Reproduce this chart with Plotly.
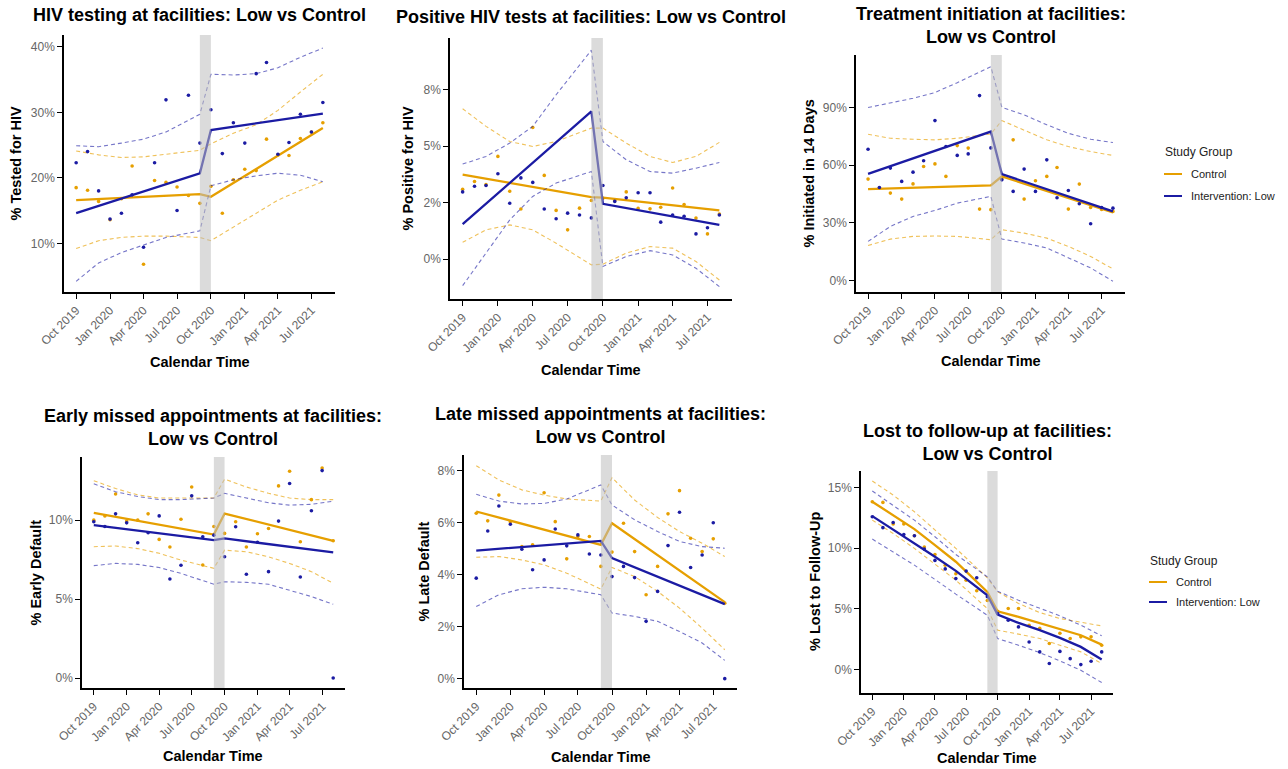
import pandas as pd
import plotly.graph_objects as go

W, H = 1288, 769

# ---------------- data ----------------
MONTHS = [d.strftime("%Y-%m-%d") for d in pd.date_range("2019-10-01", "2021-08-01", freq="MS")]
FIT_X = ["2019-10-01", "2020-09-01", "2020-10-01", "2021-08-01"]
CI_X = ["2019-10-01", "2019-12-01", "2020-02-01", "2020-04-01", "2020-06-01", "2020-09-01",
        "2020-10-01", "2020-12-01", "2021-02-01", "2021-04-01", "2021-06-01", "2021-08-01"]
TICK_X = ["2019-10-01", "2020-01-01", "2020-04-01", "2020-07-01", "2020-10-01",
          "2021-01-01", "2021-04-01", "2021-07-01"]
TICK_LABELS = ["Oct 2019", "Jan 2020", "Apr 2020", "Jul 2020", "Oct 2020",
               "Jan 2021", "Apr 2021", "Jul 2021"]
GROUPS = ["Control", "Intervention: Low"]

# Panel 1: HIV testing
p1_ctrl_pts = [18.5, 18.1, 16.4, 13.6, 16.8, 21.8, 6.8, 19.6, 19.3, 18.6, 17.3, 16.1, 18.7, 14.6, 19.7, 21.3, 21.1, 25.9, 23.5, 23.4, 26.0, 27.0, 28.4]
p1_low_pts = [22.3, 24.0, 18.0, 13.7, 14.6, 17.4, 9.4, 22.3, 31.9, 15.0, 32.6, 25.3, 30.4, 23.7, 28.4, 25.3, 35.9, 37.6, 23.6, 25.4, 29.7, 27.0, 31.5]
p1_ctrl_fit = [16.6, 17.5, 17.1, 27.6]
p1_low_fit = [14.6, 20.7, 27.3, 29.8]
p1_ctrl_lo = [9.2, 10.4, 10.9, 11.1, 11.1, 10.9, 10.4, 12.5, 14.6, 16.6, 18.1, 19.4]
p1_ctrl_hi = [24.1, 23.5, 23.1, 23.2, 23.6, 24.2, 25.2, 26.8, 28.1, 30.3, 33.1, 35.8]
p1_low_lo = [4.2, 7.0, 8.6, 9.8, 10.9, 11.9, 18.8, 19.7, 20.3, 20.7, 20.4, 19.4]
p1_low_hi = [24.9, 24.75, 25.3, 25.9, 27.0, 29.7, 35.8, 35.7, 35.9, 36.8, 38.4, 39.8]

# Panel 2: Positive HIV tests
p2_ctrl_pts = [3.1, 3.44, 3.3, 4.55, 3.01, 2.22, 5.83, 3.71, 2.16, 1.30, 2.26, 2.6, 2.7, 2.6, 2.98, 2.25, 2.23, 2.3, 3.15, 2.42, 1.82, 1.12, 2.0]
p2_low_pts = [2.98, 3.23, 3.26, 3.78, 2.48, 3.6, 3.4, 2.22, 1.79, 2.04, 1.96, 1.83, 3.26, 2.56, 2.72, 2.94, 2.94, 1.64, 1.96, 1.9, 1.12, 1.39, 1.96]
p2_ctrl_fit = [3.74, 2.75, 2.73, 2.16]
p2_low_fit = [1.55, 6.54, 2.45, 1.52]
p2_ctrl_lo = [0.75, 1.30, 1.52, 1.30, 0.71, -0.25, -0.22, 0.27, 0.56, 0.49, -0.1, -0.92]
p2_ctrl_hi = [6.66, 5.88, 5.21, 4.99, 5.21, 5.8, 5.8, 5.14, 4.55, 4.28, 4.55, 5.17]
p2_low_lo = [-1.17, 0.27, 1.74, 2.78, 3.37, 3.88, -0.32, 0.12, 0.38, 0.19, -0.4, -1.21]
p2_low_hi = [4.21, 4.55, 5.14, 5.88, 7.28, 9.25, 5.21, 4.4, 3.88, 3.81, 4.03, 4.28]

# Panel 3: Treatment initiation
p3_ctrl_pts = [52.8, 48.1, 45.5, 42.4, 50.3, 59.3, 60.7, 54.2, 70.2, 68.9, 37.2, 36.9, 53.0, 73.2, 42.4, 51.9, 54.2, 58.8, 37.2, 50.2, 38.0, 37.0, 36.0]
p3_low_pts = [68.3, 48.4, 58.5, 51.6, 56.4, 62.3, 83.2, 69.7, 65.1, 65.9, 96.2, 69.0, 52.4, 46.4, 58.0, 46.4, 62.8, 43.1, 46.9, 40.0, 29.6, 38.0, 37.7]
p3_ctrl_fit = [47.6, 49.5, 54.2, 35.5]
p3_low_fit = [55.5, 77.5, 55.4, 36.0]
p3_ctrl_lo = [18.3, 21.6, 23.0, 23.2, 23.0, 21.3, 26.5, 24.7, 22.1, 17.8, 12.6, 6.1]
p3_ctrl_hi = [76.1, 74.0, 73.5, 73.2, 74.0, 76.3, 83.2, 78.4, 73.2, 69.7, 67.1, 65.1]
p3_low_lo = [20.4, 28.2, 33.4, 36.5, 40.3, 43.8, 21.6, 19.6, 17.0, 11.8, 6.6, -0.3]
p3_low_hi = [90.0, 92.2, 94.8, 97.8, 102.9, 111.2, 90.1, 86.2, 81.0, 76.6, 73.5, 71.8]

# Panel 4: Early missed appointments
p4_ctrl_pts = [10.0, 10.27, 11.66, 9.94, 10.0, 10.4, 8.78, 8.3, 10.06, 12.1, 7.16, 9.6, 9.16, 9.9, 8.3, 9.14, 9.47, 12.17, 13.1, 8.63, 11.3, 13.3, 8.7]
p4_low_pts = [9.9, 9.6, 10.4, 9.83, 8.57, 9.2, 10.27, 6.27, 7.14, 11.54, 8.95, 9.05, 7.68, 9.58, 6.57, 8.6, 6.74, 9.94, 12.32, 6.4, 10.6, 13.14, 0.0]
p4_ctrl_fit = [10.46, 9.09, 10.42, 8.69]
p4_low_fit = [9.68, 8.74, 8.84, 7.96]
p4_ctrl_lo = [8.32, 8.36, 8.2, 7.9, 7.47, 6.95, 8.1, 8.0, 7.68, 7.26, 6.74, 6.0]
p4_ctrl_hi = [12.5, 12.0, 11.6, 11.4, 11.4, 11.4, 12.6, 12.1, 11.7, 11.4, 11.3, 11.3]
p4_low_lo = [7.12, 7.26, 7.2, 7.0, 6.63, 5.94, 6.1, 6.06, 5.94, 5.58, 5.16, 4.67]
p4_low_hi = [12.3, 11.8, 11.5, 11.3, 11.3, 11.4, 11.7, 11.4, 11.1, 10.95, 11.0, 11.2]

# Panel 5: Late missed appointments
p5_ctrl_pts = [6.35, 6.06, 7.05, 6.03, 5.07, 5.14, 7.14, 6.03, 4.6, 5.46, 5.46, 4.31, 4.86, 5.97, 4.88, 3.22, 4.31, 6.33, 7.22, 5.39, 4.88, 5.37, 2.9]
p5_low_pts = [3.86, 5.67, 6.63, 5.93, 4.97, 4.18, 4.56, 5.75, 5.1, 5.52, 4.79, 4.75, 3.92, 4.31, 3.88, 2.2, 3.35, 5.11, 6.39, 4.27, 4.75, 5.99, 0.0]
p5_ctrl_fit = [6.42, 5.14, 5.97, 2.94]
p5_low_fit = [4.92, 5.29, 4.63, 2.86]
p5_ctrl_lo = [4.66, 4.69, 4.56, 4.37, 4.05, 3.44, 4.27, 3.92, 3.35, 2.71, 1.94, 1.11]
p5_ctrl_hi = [8.18, 7.63, 7.25, 7.05, 6.9, 6.82, 7.72, 6.86, 6.19, 5.65, 5.2, 4.69]
p5_low_lo = [2.77, 3.22, 3.45, 3.51, 3.45, 3.22, 2.52, 2.39, 2.2, 1.81, 1.37, 0.7]
p5_low_hi = [7.08, 6.82, 6.71, 6.73, 6.9, 7.44, 6.67, 6.1, 5.65, 5.27, 5.07, 5.01]

# Panel 6: Lost to follow-up (curved fit, read at CI_X)
p6_ctrl_pts = [13.84, 13.78, 12.0, 12.0, 11.03, 10.1, 9.49, 8.61, 7.9, 7.37, 6.5, 5.7, 4.8, 5.03, 5.03, 3.66, 3.4, 2.15, 3.0, 2.56, 2.7, 2.7, 2.0]
p6_low_pts = [12.6, 11.7, 12.13, 11.14, 11.03, 9.93, 9.0, 8.3, 7.5, 8.12, 7.57, 6.0, 4.62, 4.07, 3.52, 2.28, 1.46, 0.5, 1.5, 0.9, 0.41, 0.69, 1.46]
p6_ctrl_fit = [13.84, 12.74, 11.58, 10.26, 8.89, 6.41, 4.81, 4.35, 3.85, 3.38, 2.83, 2.06]
p6_low_fit = [12.65, 11.55, 10.45, 9.3, 8.14, 6.13, 4.54, 3.85, 3.25, 2.61, 1.87, 0.83]
p6_ctrl_lo = [12.32, 11.22, 9.99, 8.67, 7.37, 5.03, 3.25, 2.92, 2.56, 2.01, 1.46, 0.5]
p6_ctrl_hi = [15.54, 14.39, 13.01, 11.5, 9.99, 7.57, 6.41, 5.45, 4.7, 4.21, 3.93, 3.6]
p6_low_lo = [10.76, 9.66, 8.61, 7.43, 6.22, 4.48, 2.56, 2.01, 1.4, 0.72, -0.06, -1.07]
p6_low_hi = [14.72, 13.56, 12.32, 10.95, 9.49, 7.65, 6.46, 5.72, 5.03, 4.43, 3.66, 2.78]

TITLES = ["HIV testing at facilities: Low vs Control",
          "Positive HIV tests at facilities: Low vs Control",
          "Treatment initiation at facilities:<br>Low vs Control",
          "Early missed appointments at facilities:<br>Low vs Control",
          "Late missed appointments at facilities:<br>Low vs Control",
          "Lost to follow-up at facilities:<br>Low vs Control"]
YTITLES = ["% Tested for HIV", "% Positive for HIV", "% Initiated in 14 Days",
           "% Early Default", "% Late Default", "% Lost to Follow-Up"]
YTICKS = [[10, 20, 30, 40], [0, 2.5, 5, 7.5], [0, 30, 60, 90], [0, 5, 10], [0, 2, 4, 6, 8], [0, 5, 10, 15]]
YTICKTEXT = [["10%", "20%", "30%", "40%"], ["0%", "2%", "5%", "8%"], ["0%", "30%", "60%", "90%"],
             ["0%", "5%", "10%"], ["0%", "2%", "4%", "6%", "8%"], ["0%", "5%", "10%", "15%"]]
YRANGES = [[2.57, 41.8], [-1.76, 9.79], [-5.9, 117.3], [-0.63, 14.0], [-0.36, 8.59], [-1.93, 16.37]]

# ---------------- layout geometry (px) ----------------
PANELS = [  # x0, x1, y0, y1 of plot area
    (64, 335, 35, 292),
    (450, 732, 38, 299),
    (856, 1125, 55, 292),
    (82, 345, 457, 688),
    (464, 737, 455, 688),
    (861, 1113, 471, 693),
]
TITLE_Y = [15, 17, 26, 427, 425, 442]
YTITLE_X = [15, 407, 808, 35, 423, 815]
XTITLE_Y = [362, 370, 361, 756, 757, 758]

ORANGE = "#E69F00"
BLUE = "#1B1BA3"
ORANGE_CI = "rgba(230,159,0,0.65)"
BLUE_CI = "rgba(27,27,163,0.6)"
FONT = "Liberation Sans, Arial, sans-serif"


def px(x):
    return x / W


def py(y):
    return 1 - y / H


panel_data = [
    (p1_ctrl_pts, p1_low_pts, p1_ctrl_fit, p1_low_fit, FIT_X, p1_ctrl_lo, p1_ctrl_hi, p1_low_lo, p1_low_hi),
    (p2_ctrl_pts, p2_low_pts, p2_ctrl_fit, p2_low_fit, FIT_X, p2_ctrl_lo, p2_ctrl_hi, p2_low_lo, p2_low_hi),
    (p3_ctrl_pts, p3_low_pts, p3_ctrl_fit, p3_low_fit, FIT_X, p3_ctrl_lo, p3_ctrl_hi, p3_low_lo, p3_low_hi),
    (p4_ctrl_pts, p4_low_pts, p4_ctrl_fit, p4_low_fit, FIT_X, p4_ctrl_lo, p4_ctrl_hi, p4_low_lo, p4_low_hi),
    (p5_ctrl_pts, p5_low_pts, p5_ctrl_fit, p5_low_fit, FIT_X, p5_ctrl_lo, p5_ctrl_hi, p5_low_lo, p5_low_hi),
    (p6_ctrl_pts, p6_low_pts, p6_ctrl_fit, p6_low_fit, CI_X, p6_ctrl_lo, p6_ctrl_hi, p6_low_lo, p6_low_hi),
]

fig = go.Figure()
layout = dict(template="none", width=W, height=H, margin=dict(l=0, r=0, t=0, b=0, pad=0),
              paper_bgcolor="white", plot_bgcolor="white", showlegend=False,
              font=dict(family=FONT))
shapes = []
annotations = []

for i, (cp, lp, cf, lf, fx, clo, chi, llo, lhi) in enumerate(panel_data):
    k = "" if i == 0 else str(i + 1)
    xa, ya = "x" + k, "y" + k
    x0, x1, y0, y1 = PANELS[i]
    layout["xaxis" + k] = dict(
        domain=[px(x0), px(x1)], anchor=ya, type="date", automargin=False,
        range=["2019-08-29", "2021-09-03"],
        tickvals=TICK_X, ticktext=TICK_LABELS, tickangle=-45,
        showline=True, linecolor="black", linewidth=1.5, mirror=False,
        ticks="outside", ticklen=5, tickwidth=1.3, tickcolor="black",
        showgrid=False, zeroline=False,
        tickfont=dict(size=12, color="#666666", family=FONT))
    layout["yaxis" + k] = dict(
        domain=[py(y1), py(y0)], anchor=xa, range=YRANGES[i], automargin=False,
        tickvals=YTICKS[i], ticktext=YTICKTEXT[i],
        showline=True, linecolor="black", linewidth=1.5,
        ticks="outside", ticklen=5, tickwidth=1.3, tickcolor="black",
        showgrid=False, zeroline=False,
        tickfont=dict(size=12, color="#666666", family=FONT))

    for pts, fit, lo, hi, col, cicol, name in [
        (cp, cf, clo, chi, ORANGE, ORANGE_CI, GROUPS[0]),
        (lp, lf, llo, lhi, BLUE, BLUE_CI, GROUPS[1]),
    ]:
        for band in (lo, hi):
            fig.add_trace(go.Scatter(x=CI_X, y=band, mode="lines", xaxis=xa, yaxis=ya,
                                     line=dict(color=cicol, width=1.1, dash="4px,3px"),
                                     name=name, hoverinfo="skip"))
        fig.add_trace(go.Scatter(x=MONTHS, y=pts, mode="markers", xaxis=xa, yaxis=ya,
                                 marker=dict(color=col, size=3.6, line=dict(width=0)), name=name))
        fig.add_trace(go.Scatter(x=fx, y=fit, mode="lines", xaxis=xa, yaxis=ya,
                                 line=dict(color=col, width=2.3), name=name))

    # intervention gap band
    shapes.append(dict(type="rect", xref=xa, yref=ya + " domain",
                       x0="2020-09-01", x1="2020-10-01", y0=0, y1=1,
                       fillcolor="rgba(190,190,190,0.55)", line=dict(width=0), layer="above"))

    cx = (x0 + x1) / 2
    annotations.append(dict(text="<b>" + TITLES[i] + "</b>", x=px(cx), y=py(TITLE_Y[i]),
                            xref="paper", yref="paper", showarrow=False, xanchor="center",
                            yanchor="middle", align="center",
                            font=dict(size=18, color="black", family=FONT)))
    annotations.append(dict(text="<b>" + YTITLES[i] + "</b>", x=px(YTITLE_X[i]),
                            y=py((y0 + y1) / 2), xref="paper", yref="paper", showarrow=False,
                            textangle=-90, xanchor="center", yanchor="middle",
                            font=dict(size=14.5, color="black", family=FONT)))
    annotations.append(dict(text="<b>Calendar Time</b>", x=px(cx), y=py(XTITLE_Y[i]),
                            xref="paper", yref="paper", showarrow=False, xanchor="center",
                            yanchor="middle", font=dict(size=14.5, color="black", family=FONT)))

# legends (one per row, drawn as keys + labels)
LEGENDS = [(1163, 152, 174, 196), (1148, 561, 582, 602)]
for lx, ty, ry1, ry2 in LEGENDS:
    annotations.append(dict(text="Study Group", x=px(lx), y=py(ty), xref="paper", yref="paper",
                            showarrow=False, xanchor="left", yanchor="middle",
                            font=dict(size=12, color="#222", family=FONT)))
    for ry, col, name in [(ry1, ORANGE, GROUPS[0]), (ry2, BLUE, GROUPS[1])]:
        shapes.append(dict(type="line", xref="paper", yref="paper",
                           x0=px(lx + 1), x1=px(lx + 19), y0=py(ry), y1=py(ry),
                           line=dict(color=col, width=2)))
        annotations.append(dict(text=name, x=px(lx + 26), y=py(ry), xref="paper", yref="paper",
                                showarrow=False, xanchor="left", yanchor="middle",
                                font=dict(size=11, color="#222", family=FONT)))

layout["shapes"] = shapes
layout["annotations"] = annotations
fig.update_layout(**layout)
fig.write_html("out.html", config={"displayModeBar": False},
               post_script="document.body.style.margin='0';document.body.style.overflow='hidden';")
